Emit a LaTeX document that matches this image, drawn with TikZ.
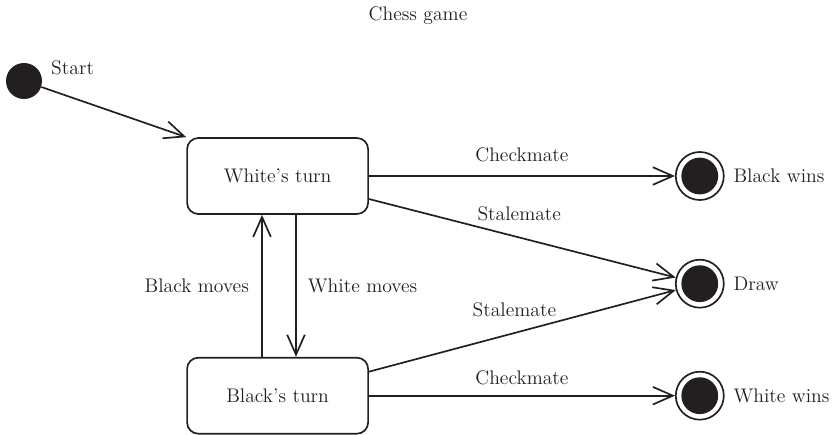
\documentclass[tikz,border=0pt]{standalone}
\usepackage{tikz}
\usetikzlibrary{arrows.meta,positioning}
\definecolor{ink}{RGB}{35,31,32}
\tikzset{
    %Define standard arrow tip
    >={Straight Barb[length=0.5cm,width=0.44cm]},
    %Define style for states
    state/.style={
           rectangle,
           rounded corners=0.28cm,
           draw=ink, line width=1.2pt,
           minimum width=4.525cm,
           minimum height=1.9cm,
           text centered},
    startdot/.style={
           circle,
           fill=ink,
           minimum size=0.9cm,
           inner sep=0pt},
    enddot/.style={
           circle,
           draw=ink, line width=1.2pt,
           minimum size=1.2cm,
           inner sep=0pt,
           path picture={\fill[ink] (path picture bounding box.center) circle (0.46cm);}},
    % Define arrow style
    pil/.style={
           ->,
           line width=1.2pt}
}
\begin{document}
\begin{tikzpicture}[color=ink, text=ink, font=\fontsize{14}{17}\selectfont]
\useasboundingbox (0,0) rectangle (20.925,-10.85);
\node (title) at (10.45,-0.4) {Chess game};
\node[startdot] (start) at (0.6,-2.025) {};
\node[right=0.1cm of start, yshift=0.32cm] (startlbl) {Start};
\node[state] (white) at (6.94,-4.4) {White's turn};
\node[state, below=3.55cm of white] (black) {Black's turn};
\node[enddot, right=7.65cm of white] (bwins) {};
\node[enddot, below=1.45cm of bwins] (tie) {};
\node[enddot, right=7.65cm of black] (wwins) {};
\node[right=0.1cm of bwins] {Black wins};
\node[right=0.1cm of tie] {Draw};
\node[right=0.1cm of wwins] {White wins};

\draw[pil] (start) -- (white.north west);
\draw[pil] (white) -- (bwins) node[midway, above=0.22cm]{Checkmate};
\draw[pil] ([yshift=-0.575cm]white.east) -- (tie) node[pos=0.49, above=0.28cm]{Stalemate};
\draw[pil] ([yshift=0.6cm]black.east) -- (tie) node[pos=0.474, above=0.26cm]{Stalemate};
\draw[pil] (black) -- (wwins) node[midway, above=0.14cm]{Checkmate};
\draw[pil] ([xshift=-0.39cm]black.north) -- ([xshift=-0.39cm]white.south) node[midway, left=0.19cm]{Black moves};
\draw[pil] ([xshift=0.46cm]white.south) -- ([xshift=0.46cm]black.north) node[midway, right=0.16cm]{White moves};
\end{tikzpicture}
\end{document}
